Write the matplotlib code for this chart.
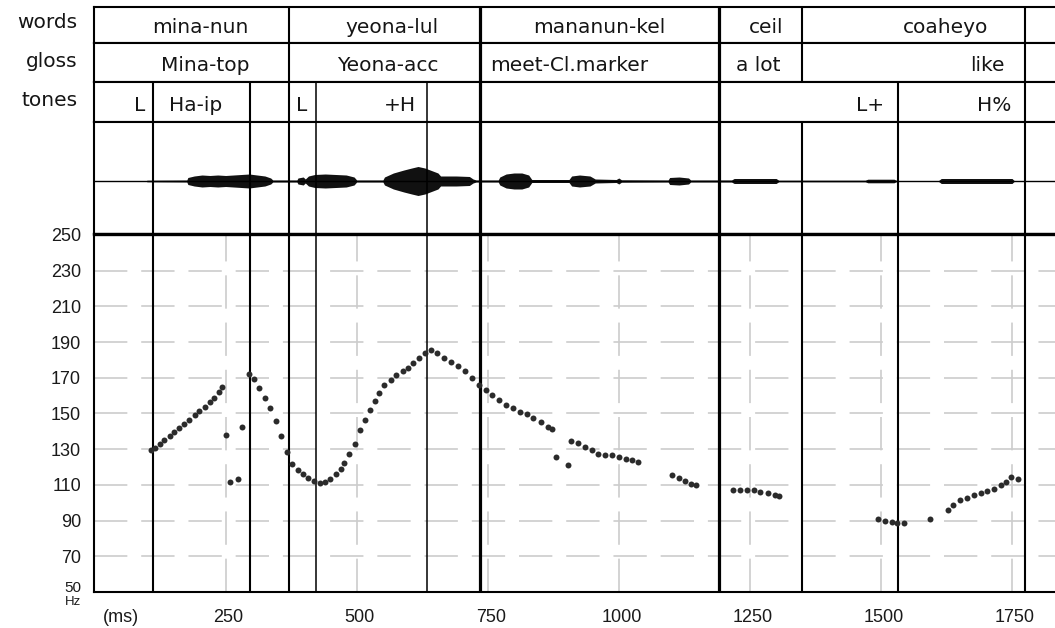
import matplotlib
matplotlib.use('Agg')
import matplotlib.pyplot as plt
from matplotlib import transforms

plt.rcParams['lines.scale_dashes'] = False

W, H = 1055, 628
LEFT = 93.5          # pixel x of the left frame line
XMIN, XMAX = -2, 1832

# annotation tiers
word_labels = ['mina-nun', 'yeona-lul', 'mananun-kel', 'ceil', 'coaheyo']
word_label_ms = [202, 568, 962, 1281, 1624]
gloss_labels = ['Mina-top', 'Yeona-acc', 'meet-Cl.marker', 'a lot', 'like']
gloss_label_ms = [212, 559, 906, 1266, 1703]
tone_labels = ['L', 'Ha-ip', 'L', '+H', 'L+', 'H%']
tone_label_ms = [86, 192, 395, 582, 1479, 1716]

word_bounds = [371, 735, 1191, 1350, 1775]
tone_bounds = [111, 297, 371, 422, 634, 735, 1191, 1532, 1775]
signal_bounds = [111, 297, 371, 422, 634, 735, 1191, 1350, 1532, 1775]

# waveform envelope (ms, amplitude)
wave_ms = [0, 98, 100, 176, 178, 190, 205, 220, 235, 250, 265, 280, 295, 310, 325, 336, 340,
           386, 388, 398, 402, 408, 420, 440, 460, 480, 495, 500,
           550, 553, 570, 590, 605, 617, 630, 645, 655, 660, 690, 715, 722, 728,
           770, 773, 785, 800, 815, 828, 834,
           905, 910, 925, 945, 955, 995, 1000, 1005,
           1094, 1097, 1115, 1133, 1137,
           1215, 1220, 1300, 1305,
           1470, 1475, 1525, 1530,
           1610, 1615, 1750, 1755, 1832]
wave_amp = [0, 0, 0.8, 1, 3.5, 5, 6, 5.5, 6, 5.5, 6, 6.5, 7, 6, 5, 3, 1,
            1, 3, 4, 2, 5, 6.5, 7, 6.5, 6, 4, 1,
            1, 4, 8, 11, 13, 14.5, 13, 10, 8, 5, 5, 4.5, 2, 1,
            1, 4, 7, 8, 8, 6, 1.5,
            1.5, 5, 6, 5, 2, 1.5, 3, 1.2,
            1, 3.5, 4, 3, 1,
            1, 2.5, 2.5, 0.8,
            0.8, 1.8, 1.8, 0.5,
            0.5, 2.5, 2.5, 0, 0]

# pitch track (ms, Hz)
pitch_ms = [108, 116, 125, 133, 143, 151, 161, 171, 181, 191, 200, 210, 220, 228, 237, 243,
            251, 258, 273, 281,
            294, 304, 313, 325, 335, 347, 355, 368, 377, 388, 398, 407, 419, 430, 440,
            450, 460, 470, 476, 486, 496, 506, 516, 526, 535, 542, 552, 565, 575, 588,
            598, 608, 618, 631, 641, 654, 667, 680, 693, 706, 720, 733, 746, 759, 772,
            785, 798, 811, 824, 837, 851, 864, 873,
            880, 904,
            909, 922, 935, 948, 961, 974, 987, 1000, 1013, 1026, 1036,
            1101, 1114, 1127, 1137, 1147,
            1218, 1231, 1244, 1257, 1270, 1284, 1297, 1306,
            1495, 1508, 1521, 1531, 1544,
            1594,
            1628, 1638, 1651, 1664, 1677, 1690, 1703, 1716, 1729, 1739, 1749, 1762]
pitch_hz = [129.4, 130.8, 132.7, 134.9, 137.3, 139.7, 142, 144.2, 146.6, 149, 151.6, 153.4, 156.4, 158.6, 162, 164.6,
            138, 111.4, 113.2, 142.5,
            172, 169.4, 164.2, 158.6, 153, 145.7, 137.3, 128.6, 121.6, 118.2, 116, 114, 112.3, 110.8, 111.4,
            113.2, 116, 118.8, 122.5, 127.1, 132.7, 141, 146.6, 152.2, 156.8, 161.4, 166, 168.8, 171.6, 173.5,
            175.7, 178.1, 180.9, 183.7, 185.5, 183.7, 180.9, 179, 176.8, 173.5, 169.8, 166, 163.3, 160.5, 157.7,
            154.9, 153, 151, 149.5, 147.5, 145, 142.6, 141.3,
            125.6, 120.9,
            134.8, 133.4, 131.1, 129.3, 127.4, 127, 126.5, 125.6, 124.6, 123.7, 122.8,
            115.4, 114.1, 112.2, 110.7, 109.8,
            107, 107.4, 107, 107.4, 106.1, 105.2, 104.6, 103.7,
            90.7, 90, 89.4, 88.5, 88.5,
            90.7,
            95.9, 98.7, 101.4, 102.9, 104.2, 105.5, 106.6, 107.9, 109.8, 111.7, 114.4, 113.5]

hz_ticks = list(range(50, 251, 20))
ms_ticks = [250, 500, 750, 1000, 1250, 1500, 1750]

TIER_FONT = dict(family='DejaVu Sans', size=14.5, color='#151515')
TICK_FONT = dict(family='Liberation Sans', size=13, color='#1a1a1a')
THICK = {735, 1191}
THIN = {422, 634}


def bound_width(b):
    if b in THICK:
        return 2.3
    if b in THIN:
        return 1.1
    return 1.5


def add_row(top, bottom):
    ax = fig.add_axes([LEFT / W, 1 - bottom / H, 1 - LEFT / W, (bottom - top) / H])
    ax.set_xlim(XMIN, XMAX)
    ax.set_xticks([])
    ax.set_yticks([])
    for side in ['left', 'top', 'bottom']:
        ax.spines[side].set_linewidth(1.5)
    ax.spines['right'].set_visible(False)
    return ax


def draw_tier(ax, bounds, labels, label_ms, name, name_base):
    for b in bounds:
        ax.axvline(b, color='k', lw=bound_width(b))
    for lab, t in zip(labels, label_ms):
        ax.text(t, 0.27, lab, transform=ax.get_xaxis_transform(),
                ha='center', va='baseline', **TIER_FONT)
    fig.text(77.5 / W, 1 - name_base / H, name, ha='right', va='baseline', **TIER_FONT)


fig = plt.figure(figsize=(W / 100, H / 100), dpi=100)

ax_words = add_row(7, 43)
draw_tier(ax_words, word_bounds, word_labels, word_label_ms, 'words', 28)
ax_gloss = add_row(43, 82)
draw_tier(ax_gloss, word_bounds, gloss_labels, gloss_label_ms, 'gloss', 67)
ax_tones = add_row(82, 122)
draw_tier(ax_tones, tone_bounds, tone_labels, tone_label_ms, 'tones', 106)

# waveform
ax_wave = add_row(122, 234)
ax_wave.set_ylim(-53, 59)
ax_wave.fill_between(wave_ms, [-a for a in wave_amp], wave_amp, color='#111111', lw=0)
ax_wave.axhline(0, color='k', lw=1.0)
for b in signal_bounds:
    ax_wave.axvline(b, color='k', lw=bound_width(b))

# pitch
ax_p = add_row(234, 592)
ax_p.spines['top'].set_linewidth(2.4)
ax_p.set_ylim(51, 250.5)
ax_p.set_yticks(hz_ticks)
ax_p.set_yticklabels([''] + [str(v) for v in hz_ticks[1:]], **TICK_FONT)
ax_p.set_xticks(ms_ticks)
ax_p.set_xticklabels([str(v) for v in ms_ticks], **TICK_FONT)
ax_p.tick_params(axis='both', length=0)
ax_p.tick_params(axis='y', pad=9)
ax_p.tick_params(axis='x', pad=12)
shift = transforms.ScaledTranslation(3 / 100, 0, fig.dpi_scale_trans)
for lab in ax_p.get_xticklabels():
    lab.set_transform(lab.get_transform() + shift)
ax_p.set_axisbelow(True)
ax_p.grid(True, color='#cccccc', lw=1.2, linestyle=(0, (24, 10)))
for b in signal_bounds:
    ax_p.axvline(b, color='k', lw=bound_width(b), zorder=2)
ax_p.plot(pitch_ms, pitch_hz, linestyle='none', marker='o', markersize=4.3,
          color='#2b2b2b', markeredgewidth=0, zorder=3)

fig.text(81 / W, 1 - 587.5 / H, '50', ha='right', va='center',
         family='Liberation Sans', size=11, color='#1a1a1a')
fig.text(81 / W, 1 - 602 / H, 'Hz', ha='right', va='center',
         family='Liberation Sans', size=9.5, color='#1a1a1a')
fig.text(121 / W, 1 - 617 / H, '(ms)', ha='center', va='center', **TICK_FONT)

fig.savefig('out.png', dpi=100)
